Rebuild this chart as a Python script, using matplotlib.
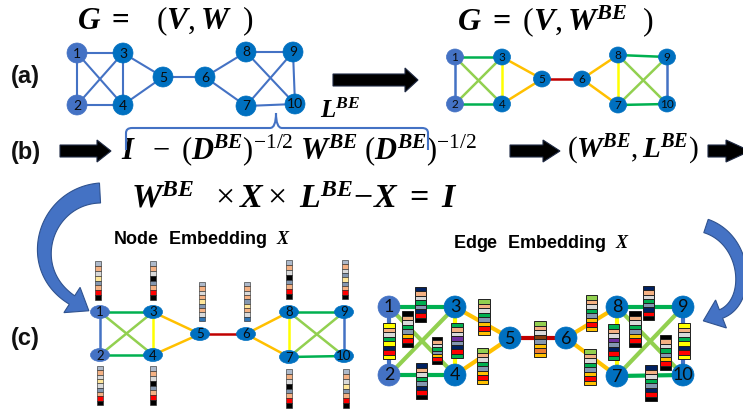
import numpy as np
import matplotlib
matplotlib.use("Agg")
import matplotlib.pyplot as plt
from matplotlib.patches import Ellipse, Rectangle, Polygon, PathPatch
from matplotlib.path import Path

plt.rcParams.update({
    "mathtext.fontset": "custom",
    "mathtext.rm": "Liberation Serif",
    "mathtext.it": "Liberation Serif:italic",
    "mathtext.bf": "Liberation Serif:bold",
    "mathtext.bfit": "Liberation Serif:italic:bold",
})

# ---------------------------------------------------------------- data
NODE_IDS = [1, 2, 3, 4, 5, 6, 7, 8, 9, 10]
NODE_GROUP = [0, 0, 1, 1, 1, 1, 1, 1, 1, 1]

# original graph W
EDGES_W = [(1, 3), (1, 2), (1, 4), (2, 3), (2, 4), (3, 4), (3, 5), (4, 5), (5, 6),
           (6, 8), (6, 7), (8, 9), (8, 10), (9, 7), (9, 10), (7, 10)]

# re-weighted graph W^BE and the weight class of each edge
EDGES_BE = [(1, 2), (1, 3), (1, 4), (2, 3), (2, 4), (3, 4), (3, 5), (4, 5), (5, 6),
            (6, 8), (6, 7), (8, 9), (8, 7), (8, 10), (9, 7), (9, 10), (7, 10)]
BE_LEVEL = ["blue", "green", "lightgreen", "lightgreen", "green", "yellow", "orange",
            "orange", "red", "orange", "orange", "green", "yellow", "lightgreen",
            "lightgreen", "blue", "green"]

# node embedding vectors (colour-coded entries)
NODE_EMB = ["SPGVBPRK", "SPGVGBPRK", "SPGKBPRK", "SPGKBPRK", "SPGPVBPGD",
            "SPGPBVPGD", "SPGKBPRK", "SPGKBPRK", "SPGBVBPRK", "SPGVBPRK"]

# edge embedding vectors, same order as EDGES_BE
EDGE_EMB = ["YPGEYNRY", "NPGEBNRK", "KPGEBORK", "KPGEBORK", "NPGEBNRK", "EPGUBNRE",
            "LPGEBORO", "LPGEBORO", "LPGWBOAO", "LPGEBORO", "LPGEBORO", "NPGEBNRK",
            "EPGUBNRE", "KPGEBORK", "KPGEBORK", "YPGEYNRY", "NPGEBNRK"]

# ---------------------------------------------------------------- styles
LEVEL_COLORS = {"blue": "#4472C4", "green": "#00B050", "lightgreen": "#92D050",
                "yellow": "#FFFF00", "orange": "#FFC000", "red": "#C00000"}
EMB_COLORS = {"N": "#002060", "P": "#F4B183", "G": "#D9D9D9", "E": "#00B050",
              "B": "#8497B0", "R": "#FF0000", "K": "#000000", "Y": "#FFFF00",
              "O": "#FFC000", "L": "#92D050", "U": "#7030A0", "W": "#843C0C",
              "A": "#ED7D31", "V": "#FFE699", "S": "#ADB9CA", "D": "#2E75B6"}
GROUP_COLORS = ["#4472C4", "#0070C0"]
SANS = "Lato"
SANS_BOLD = "Liberation Sans"

# node layouts (pixel coordinates) for the four drawings
POS_A = {1: (77, 53), 2: (77, 105), 3: (123, 53), 4: (123, 105), 5: (163, 77),
         6: (205, 77), 7: (246, 106), 8: (246, 52), 9: (293, 52), 10: (295, 104)}
POS_BE = {1: (455, 57), 2: (455, 104), 3: (502, 57), 4: (502, 104), 5: (542, 79),
          6: (582, 79), 7: (618, 105), 8: (618, 55), 9: (667, 57), 10: (667, 104)}
POS_NE = {1: (100, 312), 2: (100, 355), 3: (153, 312), 4: (153, 355), 5: (200, 334),
          6: (246, 334), 7: (289, 357), 8: (289, 312), 9: (344, 312), 10: (344, 356)}
POS_EE = {1: (389, 307), 2: (389, 375), 3: (455, 307), 4: (455, 375), 5: (510, 338),
          6: (566, 338), 7: (617, 376), 8: (617, 307), 9: (683, 307), 10: (683, 375)}

# top-left corners of the node-embedding columns
NE_BAR = {1: (95, 261), 2: (97, 366), 3: (150, 261), 4: (150, 366), 5: (199, 282),
          6: (244, 282), 7: (286, 369), 8: (286, 260), 9: (342, 260), 10: (343, 369)}
# (x0, y0, w, h) of the edge-embedding columns, same order as EDGES_BE
EE_BAR = [(383, 323, 12, 36), (415, 287, 11, 35), (402, 311, 11, 36), (432, 337, 10, 27),
          (416, 363, 11, 36), (451, 323, 12, 35), (478, 299, 12, 36), (477, 348, 11, 36),
          (534, 321, 12, 36), (586, 295, 11, 36), (584, 349, 12, 36), (643, 286, 11, 34),
          (608, 324, 11, 36), (629, 311, 12, 36), (660, 335, 11, 35), (678, 323, 12, 36),
          (645, 365, 12, 36)]

fig = plt.figure(figsize=(7.43, 4.13), dpi=100)
ax = fig.add_axes([0, 0, 1, 1])
ax.set_xlim(0, 743)
ax.set_ylim(413, 0)
ax.axis("off")


def draw_graph(pos, edges, colors, lw, w, h, fs):
    for (a, b), c in zip(edges, colors):
        ax.plot([pos[a][0], pos[b][0]], [pos[a][1], pos[b][1]], color=c, lw=lw,
                zorder=1, solid_capstyle="butt")
    for n, g in zip(NODE_IDS, NODE_GROUP):
        x, y = pos[n]
        ax.add_patch(Ellipse((x, y), w, h, facecolor=GROUP_COLORS[g],
                             edgecolor=GROUP_COLORS[g], lw=0.5, zorder=2))
        ax.text(x, y + 0.5, str(n), ha="center", va="center", fontsize=fs,
                family=SANS, color="#0B0B0B", zorder=3)


def draw_column(x0, y0, w, h, code, lw):
    ch = h / len(code)
    for i, k in enumerate(code):
        ax.add_patch(Rectangle((x0, y0 + i * ch), w, ch, facecolor=EMB_COLORS[k],
                               edgecolor="#202020", lw=lw, zorder=4))


def block_arrow(x0, x1, xh, yc, body, head):
    pts = [(x0, yc - body / 2), (xh, yc - body / 2), (xh, yc - head / 2), (x1, yc),
           (xh, yc + head / 2), (xh, yc + body / 2), (x0, yc + body / 2)]
    ax.add_patch(Polygon(pts, closed=True, facecolor="black", edgecolor="#1F2A44",
                         lw=0.8, zorder=5))


def curved_arrow(ctrl, w0, w1, head_w, head_l):
    P = np.array(ctrl, float)
    t = np.linspace(0, 1, 80)[:, None]
    B = ((1 - t) ** 3) * P[0] + 3 * ((1 - t) ** 2) * t * P[1] + 3 * (1 - t) * t ** 2 * P[2] + t ** 3 * P[3]
    dB = 3 * ((1 - t) ** 2) * (P[1] - P[0]) + 6 * (1 - t) * t * (P[2] - P[1]) + 3 * t ** 2 * (P[3] - P[2])
    u = dB / np.linalg.norm(dB, axis=1)[:, None]
    n = np.column_stack([-u[:, 1], u[:, 0]])
    wid = (w0 + (w1 - w0) * t)
    left = B + n * wid / 2
    right = B - n * wid / 2
    e, ue, ne = B[-1], u[-1], n[-1]
    head = [e + ne * head_w / 2, e + ue * head_l, e - ne * head_w / 2]
    pts = np.vstack([left, head, right[::-1]])
    ax.add_patch(Polygon(pts, closed=True, facecolor="#4472C4", edgecolor="#2F528F",
                         lw=0.8, zorder=5))


# (a) original and re-weighted graphs
draw_graph(POS_A, EDGES_W, [LEVEL_COLORS["blue"]] * len(EDGES_W), 1.5, 20, 20, 10)
draw_graph(POS_BE, EDGES_BE, [LEVEL_COLORS[c] for c in BE_LEVEL], 1.8, 17, 16, 8.5)

# (c) node embedding
draw_graph(POS_NE, EDGES_BE, [LEVEL_COLORS[c] for c in BE_LEVEL], 1.8, 19, 13, 9.5)
for n, code in zip(NODE_IDS, NODE_EMB):
    x0, y0 = NE_BAR[n]
    draw_column(x0, y0, 6, 39, code, 0.4)

# (c) edge embedding
draw_graph(POS_EE, EDGES_BE, [LEVEL_COLORS[c] for c in BE_LEVEL], 3.0, 22, 22, 13)
for (x0, y0, w, h), code in zip(EE_BAR, EDGE_EMB):
    draw_column(x0, y0, w, h, code, 0.7)

# panel labels
for lab, y in [("(a)", 77), ("(b)", 152), ("(c)", 339)]:
    ax.text(11, y, lab, ha="left", va="center", fontsize=17, fontweight="bold",
            family=SANS_BOLD, color="#111111")

# formulas
ax.text(77, 21, r"$\mathbfit{G}\ \mathbf{=}\ \ \ (\mathbfit{V},\mathbfit{W}\ \ )$",
        ha="left", va="center", fontsize=22.5)
ax.text(457, 21, r"$\mathbfit{G}\ \mathbf{=}\ (\mathbfit{V},\mathbfit{W}^{\mathbfit{BE}}\ \ )$",
        ha="left", va="center", fontsize=23)
ax.text(320, 111, r"$\mathbfit{L}^{\mathbfit{BE}}$", ha="left", va="center", fontsize=18)
ax.text(121, 150,
        r"$\mathbfit{I}\ \ -\ (\mathbfit{D}^{\mathbfit{BE}})^{-1/2}\ \mathbfit{W}^{\mathbfit{BE}}\ (\mathbfit{D}^{\mathbfit{BE}})^{-1/2}$",
        ha="left", va="center", fontsize=22)
ax.text(567, 150, r"$(\mathbfit{W}^{\mathbfit{BE}}, \mathbfit{L}^{\mathbfit{BE}})$",
        ha="left", va="center", fontsize=21)
ax.text(131, 198,
        r"$\mathbfit{W}^{\mathbfit{BE}}\ \ \times\mathbfit{X}\times\ \mathbfit{L}^{\mathbfit{BE}}\!-\!\mathbfit{X}\ \mathbf{=}\ \mathbfit{I}$",
        ha="left", va="center", fontsize=24.5)
ax.text(113, 240, r"Node  Embedding  $\mathbfit{X}$", ha="left", va="center",
        fontsize=13, fontweight="bold", family=SANS_BOLD)
ax.text(453, 244, r"Edge  Embedding  $\mathbfit{X}$", ha="left", va="center",
        fontsize=13, fontweight="bold", family=SANS_BOLD)

# brace grouping the normalised Laplacian
brace = Path([(126, 150), (126, 133), (126, 128), (132, 128), (270, 128), (276, 128),
              (276, 113), (276, 128), (282, 128), (422, 128), (428, 128), (428, 133),
              (428, 150)],
             [Path.MOVETO, Path.LINETO, Path.CURVE3, Path.CURVE3, Path.LINETO, Path.CURVE3,
              Path.CURVE3, Path.CURVE3, Path.CURVE3, Path.LINETO, Path.CURVE3, Path.CURVE3,
              Path.LINETO])
ax.add_patch(PathPatch(brace, facecolor="none", edgecolor="#4472C4", lw=1.5, zorder=5))

# block arrows
block_arrow(333, 418, 405, 80, 12, 24)
block_arrow(60, 111, 97, 151, 12, 22)
block_arrow(510, 560, 543, 151, 12, 22)
block_arrow(708, 750, 726, 151, 12, 22)

# curved arrows
curved_arrow([(100, 193), (45, 196), (22, 268), (72, 300)], 20, 10, 30, 20)
curved_arrow([(706, 226), (748, 240), (752, 302), (721, 314)], 14, 9, 30, 19)

fig.savefig("out.png", dpi=100)
